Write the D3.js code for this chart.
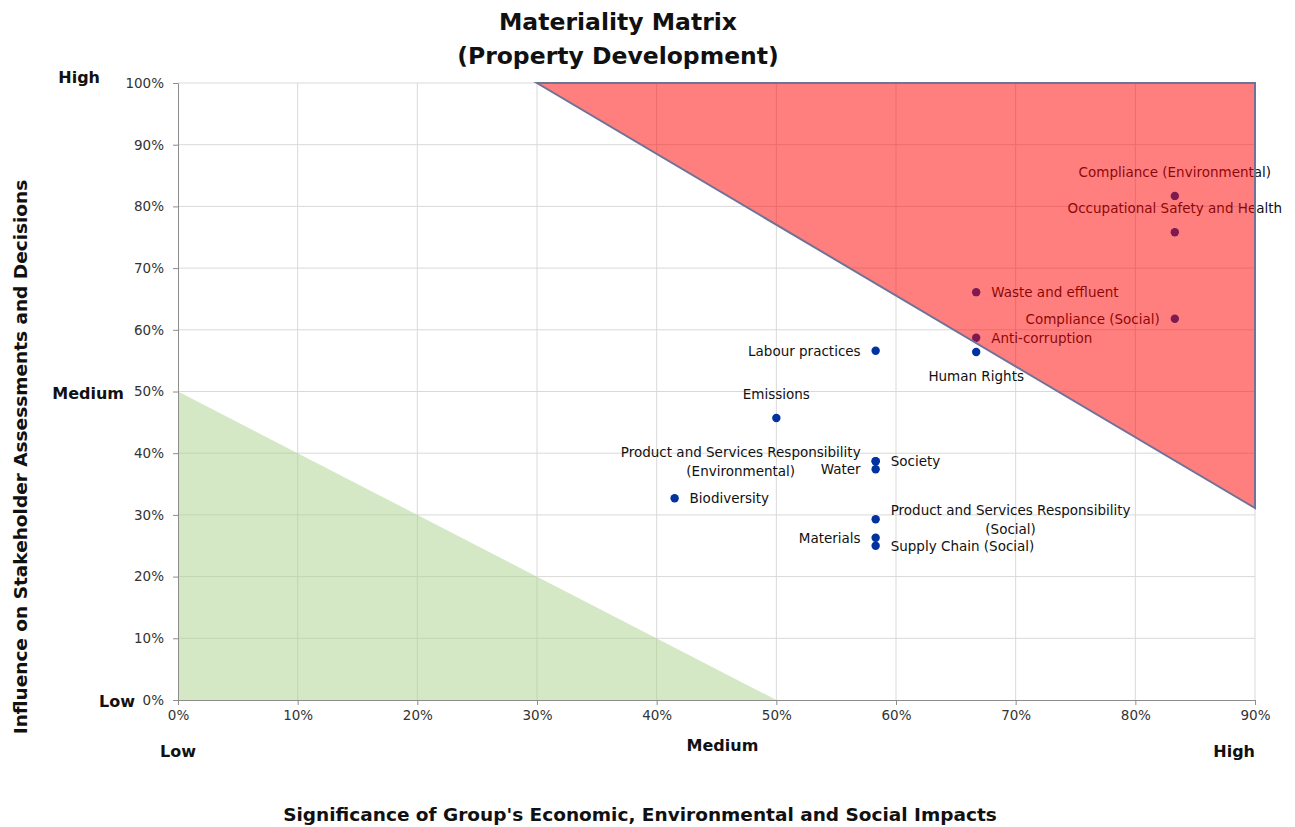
<!DOCTYPE html>
<html>
<head>
<meta charset="utf-8">
<script src="https://cdn.jsdelivr.net/npm/d3@7"></script>
<style>
  html, body { margin: 0; padding: 0; background: #fff; }
  svg text { font-family: "DejaVu Sans", sans-serif; }
</style>
</head>
<body>
<svg id="chart" width="1295" height="827"></svg>
<script>
// Topics: significance (x) and influence (y), as fractions
const topics = ["Compliance (Environmental)", "Occupational Safety and Health", "Waste and effluent",
  "Compliance (Social)", "Anti-corruption", "Human Rights", "Labour practices", "Emissions",
  "Product and Services Responsibility\n(Environmental)", "Society", "Water", "Biodiversity",
  "Product and Services Responsibility\n(Social)", "Materials", "Supply Chain (Social)"];
const significance = [0.833, 0.833, 0.667, 0.833, 0.667, 0.667, 0.583, 0.500,
  0.583, 0.583, 0.583, 0.415, 0.583, 0.583, 0.583];
const influence = [0.817, 0.758, 0.661, 0.618, 0.587, 0.564, 0.566, 0.457,
  0.387, 0.387, 0.374, 0.327, 0.293, 0.263, 0.250];
// label placement: side of the point
const labelSide = ["above", "above", "right", "left", "right", "below", "left", "above",
  "left", "right", "left", "right", "right", "left", "right"];

const xTicks = [0, 0.1, 0.2, 0.3, 0.4, 0.5, 0.6, 0.7, 0.8, 0.9];
const yTicks = [0, 0.1, 0.2, 0.3, 0.4, 0.5, 0.6, 0.7, 0.8, 0.9, 1.0];
const xLevels = [["Low", 0], ["Medium", 0.455], ["High", 0.9]];
const yLevels = [["High", 1.0], ["Medium", 0.5], ["Low", 0]];

// zones: high-priority triangle and low-priority triangle
const highZone = [[0.3, 1.0], [0.9, 1.0], [0.9, 0.311]];
const lowZone = [[0, 0.5], [0, 0], [0.5, 0]];

const svg = d3.select("#chart");
const plotL = 178, plotR = 1255, plotT = 83, plotB = 700;
const x = d3.scaleLinear().domain([0, 0.9]).range([plotL, plotR]);
const y = d3.scaleLinear().domain([0, 1]).range([plotB, plotT]);
const pct = d3.format(".0%");

// gridlines
svg.append("g").selectAll("line").data(xTicks.slice(1)).join("line")
  .attr("x1", d => x(d)).attr("x2", d => x(d)).attr("y1", plotT).attr("y2", plotB)
  .attr("stroke", "#d9d9d9").attr("stroke-width", 1);
svg.append("g").selectAll("line").data(yTicks.slice(1)).join("line")
  .attr("x1", plotL).attr("x2", plotR).attr("y1", d => y(d)).attr("y2", d => y(d))
  .attr("stroke", "#d9d9d9").attr("stroke-width", 1);

const line = d3.line().x(d => x(d[0])).y(d => y(d[1]));

// low zone (green, translucent)
svg.append("path").attr("d", line(lowZone) + "Z")
  .attr("fill", "#a9d18e").attr("fill-opacity", 0.5);

// points
const pts = topics.map((t, i) => ({ t, sx: significance[i], iy: influence[i], side: labelSide[i] }));
svg.append("g").selectAll("circle").data(pts).join("circle")
  .attr("cx", d => x(d.sx)).attr("cy", d => y(d.iy)).attr("r", 4.2)
  .attr("fill", "#0033a0");

// labels: single or two-line blocks, lines centred within the block
const lg = svg.append("g").attr("font-size", 13.5).attr("fill", "#111");
const lineH = 19;
pts.forEach(d => {
  const px = x(d.sx), py = y(d.iy);
  const lines = d.t.split("\n");
  const t = lg.append("text").attr("text-anchor", "middle");
  const spans = lines.map(s => t.append("tspan").text(s));
  const w = d3.max(spans, s => s.node().getComputedTextLength());
  const blockH = (lines.length - 1) * lineH;
  let cx, cy;
  if (d.side === "above") { cx = px; cy = py - 24; }
  else if (d.side === "below") { cx = px; cy = py + 24; }
  else if (d.side === "right") { cx = px + 15 + w / 2; cy = py; }
  else { cx = px - 15 - w / 2; cy = py; }
  spans.forEach((s, k) => s.attr("x", cx).attr("y", cy - blockH / 2 + k * lineH + 5));
});

// high zone (red overlay, translucent on top of points and labels)
svg.append("path").attr("d", line(highZone) + "Z")
  .attr("fill", "#ff0000").attr("fill-opacity", 0.5)
  .attr("stroke", "#6f7397").attr("stroke-width", 2);

// axes
const xAxis = svg.append("g").attr("transform", `translate(0,${plotB})`)
  .call(d3.axisBottom(x).tickValues(xTicks).tickFormat(pct).tickSize(5).tickSizeOuter(0));
const yAxis = svg.append("g").attr("transform", `translate(${plotL},0)`)
  .call(d3.axisLeft(y).tickValues(yTicks).tickFormat(pct).tickSize(5).tickSizeOuter(0));
[xAxis, yAxis].forEach(a => {
  a.select(".domain").attr("stroke", "#8c8c8c");
  a.selectAll(".tick line").attr("stroke", "#8c8c8c");
  a.selectAll(".tick text").attr("font-size", 13.5).attr("fill", "#333")
    .attr("font-family", '"DejaVu Sans", sans-serif');
});
xAxis.selectAll(".tick text").attr("dy", "0.9em");
yAxis.selectAll(".tick text").attr("x", -14);

// level labels
svg.append("g").selectAll("text").data(xLevels).join("text")
  .attr("x", d => x(d[1])).attr("y", (d, i) => i === 1 ? 751 : 757)
  .attr("text-anchor", (d, i) => i === 2 ? "end" : "middle")
  .attr("font-size", 16).attr("font-weight", "bold").attr("fill", "#111")
  .text(d => d[0]);
svg.append("g").selectAll("text").data(yLevels).join("text")
  .attr("x", (d, i) => i === 2 ? 135 : (i === 0 ? 100 : 124))
  .attr("y", d => y(d[1]) + (d[1] === 1 ? 0 : 7))
  .attr("text-anchor", "end")
  .attr("font-size", 16).attr("font-weight", "bold").attr("fill", "#111")
  .text(d => d[0]);

// title
const title = svg.append("text").attr("x", 618).attr("text-anchor", "middle")
  .attr("font-size", 23.5).attr("font-weight", "bold").attr("fill", "#111");
title.append("tspan").attr("x", 618).attr("y", 30).text("Materiality Matrix");
title.append("tspan").attr("x", 618).attr("y", 64).text("(Property Development)");

// axis titles
svg.append("text").attr("x", 640).attr("y", 821).attr("text-anchor", "middle")
  .attr("font-size", 18.5).attr("font-weight", "bold").attr("fill", "#111")
  .text("Significance of Group's Economic, Environmental and Social Impacts");
svg.append("text").attr("transform", "translate(27,457) rotate(-90)")
  .attr("text-anchor", "middle")
  .attr("font-size", 18.5).attr("font-weight", "bold").attr("fill", "#111")
  .text("Influence on Stakeholder Assessments and Decisions");
</script>
</body>
</html>
